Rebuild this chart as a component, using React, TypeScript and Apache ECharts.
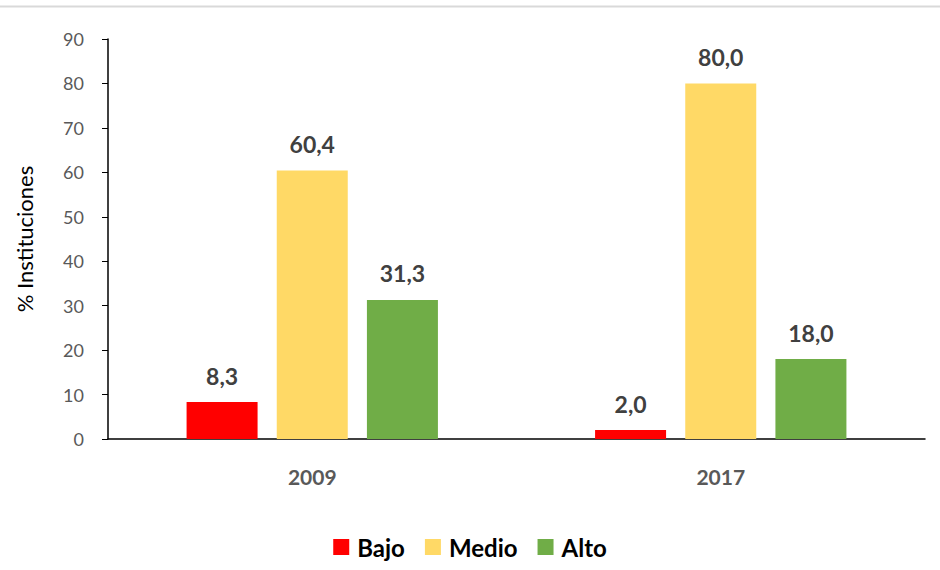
import React, { useEffect, useRef } from "react";
import * as echarts from "echarts";

const categories = ["2009", "2017"];
const bajo = [8.3, 2.0];
const medio = [60.4, 80.0];
const alto = [31.3, 18.0];
const yTicks = { min: 0, max: 90, interval: 10 };

const FONT = "Lato, 'Open Sans', sans-serif";

export default function App() {
  const ref = useRef<HTMLDivElement>(null);
  useEffect(() => {
    const chart = echarts.init(ref.current!, null, { renderer: "svg" });
    const label = {
      show: true,
      position: "top",
      distance: 15,
      fontFamily: FONT,
      fontSize: 23,
      fontWeight: "bold",
      color: "#404040",
      formatter: (p: any) => Number(p.value).toFixed(1).replace(".", ","),
    };
    const mk = (name: string, data: number[], color: string) => ({
      name,
      type: "bar",
      data,
      barWidth: 71,
      barGap: "27%",
      itemStyle: { color },
      label,
    });
    chart.setOption({
      animation: false,
      backgroundColor: "#ffffff",
      textStyle: { fontFamily: FONT },
      graphic: [
        {
          type: "line",
          shape: { x1: 0, y1: 6.5, x2: 940, y2: 6.5 },
          style: { stroke: "#d9d9d9", lineWidth: 2 },
        },
      ],
      grid: { left: 108, right: 15, top: 39, bottom: 131 },
      legend: {
        bottom: 6,
        left: "center",
        itemWidth: 16,
        itemHeight: 16,
        itemGap: 20,
        icon: "rect",
        textStyle: { fontFamily: FONT, fontSize: 24, fontWeight: "bold", color: "#000000", padding: [0, 0, 0, 3] },
        data: ["Bajo", "Medio", "Alto"],
      },
      xAxis: {
        type: "category",
        data: categories,
        axisLine: { lineStyle: { color: "#000000", width: 1.5 } },
        axisTick: { show: false },
        axisLabel: { margin: 27, fontFamily: FONT, fontSize: 21, fontWeight: "bold", color: "#595959" },
      },
      yAxis: {
        type: "value",
        min: yTicks.min,
        max: yTicks.max,
        interval: yTicks.interval,
        name: "% Instituciones",
        nameLocation: "middle",
        nameGap: 73,
        nameTextStyle: { fontFamily: FONT, fontSize: 22, color: "#000000" },
        splitLine: { show: false },
        axisLine: { show: true, lineStyle: { color: "#000000", width: 1.5 } },
        axisTick: { show: true, length: 6, lineStyle: { color: "#000000" } },
        axisLabel: { margin: 24, fontFamily: FONT, fontSize: 18, color: "#595959" },
      },
      series: [mk("Bajo", bajo, "#ff0000"), mk("Medio", medio, "#ffd966"), mk("Alto", alto, "#70ad47")],
    });
    return () => chart.dispose();
  }, []);
  return <div ref={ref} style={{ position: "absolute", left: 0, top: 0, width: 940, height: 570 }} />;
}
